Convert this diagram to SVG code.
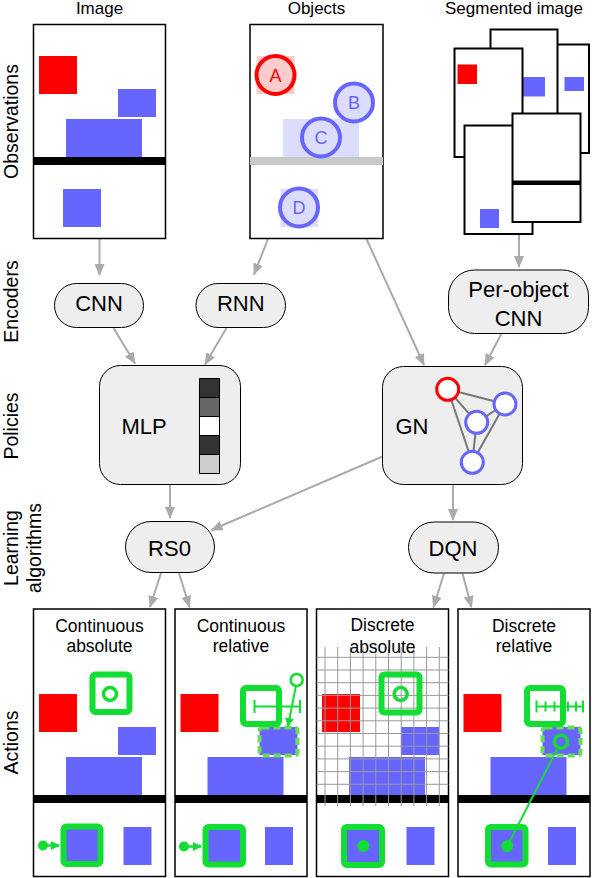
<svg xmlns="http://www.w3.org/2000/svg" xmlns:xlink="http://www.w3.org/1999/xlink" width="592" height="878" viewBox="0 0 592 878">
<style>
text{font-family:"Liberation Sans",Arial,Helvetica,sans-serif;fill:#000}
.ax{font-size:19.5px;text-anchor:middle}
.tl{font-size:17px;text-anchor:middle}
.nl{font-size:22px;text-anchor:middle}
.al{font-size:17.5px;text-anchor:middle}
.panel{fill:#fff;stroke:#000;stroke-width:1.5}
.frame{fill:#fff;stroke:#000;stroke-width:2}
.node{fill:#eeeeee;stroke:#000;stroke-width:1}
.red{fill:#ff0000}
.blue{fill:#6666ff}
.conn{stroke:#aaaaaa;stroke-width:2;fill:none;marker-end:url(#ah)}
.g{stroke:#11dd33;fill:none}
.gf{fill:#11dd33}
.dash{fill:none;stroke:#66dd55;stroke-width:4;stroke-dasharray:7 4}
.grid{stroke:#999;stroke-width:1}
.gne{stroke:#777;stroke-width:2}
.obj{font-size:18px;text-anchor:middle}
</style>
<defs>
<marker id="ah" markerUnits="userSpaceOnUse" markerWidth="12" markerHeight="10" refX="11" refY="5" orient="auto">
<path d="M0,0 L12,5 L0,10 z" fill="#aaaaaa"/>
</marker>
<marker id="gh" markerUnits="userSpaceOnUse" markerWidth="9" markerHeight="9" refX="8" refY="4.5" orient="auto">
<path d="M0,0 L9,4.5 L0,9 z" fill="#11dd33"/>
</marker>
<g id="sceneTop">
<rect class="red" x="5.5" y="-101" width="38" height="38"/>
<rect class="blue" x="84.5" y="-68" width="38" height="28"/>
<rect class="blue" x="32.5" y="-38" width="76" height="38"/>
<rect x="0" y="0" width="132" height="8" fill="#000"/>
<rect class="blue" x="29.5" y="32" width="38" height="38"/>
</g>
<g id="sceneAct">
<use xlink:href="#sceneTop"/>
<rect class="blue" x="90" y="32" width="28" height="38"/>
</g>
</defs>
<rect width="592" height="878" fill="#fff"/>

<g id="axis-labels">
<text class="ax" transform="translate(17.5,121.5) rotate(-90)">Observations</text>
<text class="ax" transform="translate(17.5,301.5) rotate(-90)">Encoders</text>
<text class="ax" transform="translate(17.5,426) rotate(-90)">Policies</text>
<text class="ax" transform="translate(17.5,548) rotate(-90)">Learning</text>
<text class="ax" transform="translate(41,548) rotate(-90)">algorithms</text>
<text class="ax" transform="translate(17.5,742.5) rotate(-90)">Actions</text>
</g>

<g id="connectors">
<line class="conn" x1="99.5" y1="239" x2="99.5" y2="275"/>
<line class="conn" x1="268" y1="239" x2="254" y2="274.5"/>
<line class="conn" x1="366.5" y1="239" x2="424" y2="365"/>
<line class="conn" x1="519" y1="234" x2="519" y2="267"/>
<line class="conn" x1="113.5" y1="328" x2="135" y2="363.5"/>
<line class="conn" x1="226.5" y1="328" x2="205" y2="364.5"/>
<line class="conn" x1="501.5" y1="333.5" x2="485" y2="365"/>
<line class="conn" x1="170" y1="484.5" x2="170" y2="518"/>
<line class="conn" x1="382.5" y1="456.5" x2="211.5" y2="530"/>
<line class="conn" x1="453" y1="484.5" x2="453" y2="520"/>
<line class="conn" x1="161" y1="573" x2="150" y2="607"/>
<line class="conn" x1="179" y1="573" x2="189.5" y2="607"/>
<line class="conn" x1="444" y1="573.5" x2="433.5" y2="607"/>
<line class="conn" x1="462.5" y1="573.5" x2="471.5" y2="607"/>
</g>

<g id="obs-image">
<text class="tl" x="99.5" y="14">Image</text>
<rect class="panel" x="33.5" y="24.5" width="132" height="214"/>
<use xlink:href="#sceneTop" transform="translate(33.5,157)"/>
</g>

<g id="obs-objects">
<text class="tl" x="316.5" y="14">Objects</text>
<rect class="panel" x="250" y="24.5" width="133" height="214"/>
<rect x="250" y="157" width="133" height="8" fill="#c8c8c8"/>
<rect x="256.5" y="56" width="38" height="38" fill="#ffcccc"/>
<rect x="283" y="119" width="76" height="38" fill="#dcdcff"/>
<rect x="280.5" y="189" width="37.5" height="38" fill="#dcdcff"/>
<circle cx="275.5" cy="75" r="19" fill="#ffcccc" stroke="#ff0000" stroke-width="4"/>
<circle cx="354" cy="102.5" r="19" fill="#dcdcff" stroke="#6666ff" stroke-width="4"/>
<circle cx="321" cy="137.5" r="19" fill="#dcdcff" stroke="#6666ff" stroke-width="4"/>
<circle cx="299" cy="207.5" r="19" fill="#dcdcff" stroke="#6666ff" stroke-width="4"/>
<text class="obj" x="275.5" y="81.5" style="fill:#ff0000">A</text>
<text class="obj" x="354" y="109" style="fill:#6666ff">B</text>
<text class="obj" x="321" y="144" style="fill:#6666ff">C</text>
<text class="obj" x="299" y="214" style="fill:#6666ff">D</text>
</g>

<g id="obs-segmented">
<text class="tl" x="514" y="14">Segmented image</text>
<rect class="frame" x="521" y="44.5" width="68" height="108.5"/>
<rect class="blue" x="564.5" y="77" width="19.5" height="14"/>
<rect class="frame" x="490.5" y="29.5" width="67" height="108.5"/>
<rect class="blue" x="507" y="77" width="38" height="19.5"/>
<rect class="frame" x="454.5" y="48.5" width="68" height="108.5"/>
<rect class="red" x="457.5" y="64.5" width="19.5" height="19.5"/>
<rect class="frame" x="464.5" y="125.5" width="68" height="108.5"/>
<rect class="blue" x="480" y="209" width="19" height="19"/>
<rect class="frame" x="512.5" y="113.5" width="68" height="108.5"/>
<rect x="512.5" y="180.5" width="68" height="4.5" fill="#000"/>
</g>

<g id="enc-cnn">
<rect class="node" x="54.5" y="283.5" width="89" height="44" rx="22"/>
<text class="nl" x="99" y="311">CNN</text>
</g>
<g id="enc-rnn">
<rect class="node" x="196" y="283.5" width="89.5" height="44" rx="22"/>
<text class="nl" x="240.8" y="311">RNN</text>
</g>
<g id="enc-perobject">
<rect class="node" x="448.5" y="270" width="140" height="63.5" rx="26"/>
<text class="nl" x="518.5" y="297">Per-object</text>
<text class="nl" x="518.5" y="326">CNN</text>
</g>

<g id="pol-mlp">
<rect class="node" x="99.5" y="365.5" width="141" height="119" rx="21"/>
<text class="nl" x="144" y="434">MLP</text>
<rect x="199.5" y="378.5" width="20" height="19" fill="#333" stroke="#000"/>
<rect x="199.5" y="397.5" width="20" height="19" fill="#666" stroke="#000"/>
<rect x="199.5" y="416.5" width="20" height="19" fill="#fff" stroke="#000"/>
<rect x="199.5" y="435.5" width="20" height="19" fill="#333" stroke="#000"/>
<rect x="199.5" y="454.5" width="20" height="19" fill="#ccc" stroke="#000"/>
</g>

<g id="pol-gn">
<rect class="node" x="382.5" y="366.5" width="140" height="118" rx="21"/>
<text class="nl" x="412" y="433.5">GN</text>
<line class="gne" x1="447.7" y1="389.3" x2="505" y2="404"/>
<line class="gne" x1="447.7" y1="389.3" x2="476.7" y2="422.3"/>
<line class="gne" x1="447.7" y1="389.3" x2="472.3" y2="462.3"/>
<line class="gne" x1="505" y1="404" x2="476.7" y2="422.3"/>
<line class="gne" x1="505" y1="404" x2="472.3" y2="462.3"/>
<line class="gne" x1="476.7" y1="422.3" x2="472.3" y2="462.3"/>
<circle cx="447.7" cy="389.3" r="11" fill="#fff" stroke="#ff0000" stroke-width="3"/>
<circle cx="505" cy="404" r="11" fill="#fff" stroke="#6666ff" stroke-width="3"/>
<circle cx="476.7" cy="422.3" r="11" fill="#fff" stroke="#6666ff" stroke-width="3"/>
<circle cx="472.3" cy="462.3" r="11" fill="#fff" stroke="#6666ff" stroke-width="3"/>
</g>

<g id="alg-rs0">
<rect class="node" x="125.5" y="521.5" width="89" height="51" rx="25.5"/>
<text class="nl" x="169.5" y="556">RS0</text>
</g>
<g id="alg-dqn">
<rect class="node" x="408.5" y="522" width="90" height="51" rx="25.5"/>
<text class="nl" x="453" y="556">DQN</text>
</g>

<g id="act-cont-abs">
<rect class="panel" x="33.5" y="609" width="132" height="267.5"/>
<text class="al" x="99.5" y="631.5">Continuous</text>
<text class="al" x="99.5" y="652">absolute</text>
<use xlink:href="#sceneAct" transform="translate(33.5,795)"/>
<rect class="g" x="92.5" y="674.5" width="37" height="37.5" rx="3" stroke-width="6"/>
<circle class="g" cx="110" cy="694" r="6.5" stroke-width="3.5"/>
<rect class="g" x="63.5" y="826.5" width="37" height="37.5" rx="3" stroke-width="6"/>
<line class="g" x1="43" y1="845.5" x2="59" y2="845.5" stroke-width="2.5" marker-end="url(#gh)"/>
<circle class="gf" cx="43" cy="845.5" r="5"/>
</g>

<g id="act-cont-rel">
<rect class="panel" x="175" y="609" width="132" height="267.5"/>
<text class="al" x="241" y="631.5">Continuous</text>
<text class="al" x="241" y="652">relative</text>
<use xlink:href="#sceneAct" transform="translate(175,795)"/>
<rect class="dash" x="259.5" y="727.5" width="38" height="28" rx="3"/>
<rect class="g" x="243" y="688" width="36" height="36" rx="3" stroke-width="6"/>
<g class="g" stroke-width="2">
<line x1="254.5" y1="706.5" x2="300" y2="706.5"/>
<line x1="254.5" y1="700" x2="254.5" y2="713"/>
<line x1="300" y1="700" x2="300" y2="713"/>
</g>
<line class="g" x1="295.8" y1="686.5" x2="288" y2="726" stroke-width="2" marker-end="url(#gh)"/>
<circle cx="296.7" cy="680" r="6" fill="#fff" stroke="#11dd33" stroke-width="2.5"/>
<rect class="g" x="205.5" y="827" width="37.5" height="37.5" rx="3" stroke-width="6"/>
<line class="g" x1="184" y1="846.5" x2="201" y2="846.5" stroke-width="2.5" marker-end="url(#gh)"/>
<circle class="gf" cx="184" cy="846.5" r="5"/>
</g>

<g id="act-disc-abs">
<rect class="panel" x="316.5" y="609" width="132" height="267.5"/>
<use xlink:href="#sceneAct" transform="translate(316.5,795)"/>
<g class="grid">
<line x1="316.5" y1="657.3" x2="448.5" y2="657.3"/>
<line x1="316.5" y1="670" x2="448.5" y2="670"/>
<line x1="316.5" y1="682.7" x2="448.5" y2="682.7"/>
<line x1="316.5" y1="695.4" x2="448.5" y2="695.4"/>
<line x1="316.5" y1="708.1" x2="448.5" y2="708.1"/>
<line x1="316.5" y1="720.8" x2="448.5" y2="720.8"/>
<line x1="316.5" y1="733.5" x2="448.5" y2="733.5"/>
<line x1="316.5" y1="746.2" x2="448.5" y2="746.2"/>
<line x1="316.5" y1="758.9" x2="448.5" y2="758.9"/>
<line x1="316.5" y1="771.6" x2="448.5" y2="771.6"/>
<line x1="316.5" y1="784.3" x2="448.5" y2="784.3"/>
<line x1="325" y1="647" x2="325" y2="806"/>
<line x1="337.7" y1="647" x2="337.7" y2="806"/>
<line x1="350.4" y1="647" x2="350.4" y2="806"/>
<line x1="363.1" y1="647" x2="363.1" y2="806"/>
<line x1="375.8" y1="647" x2="375.8" y2="806"/>
<line x1="388.5" y1="647" x2="388.5" y2="806"/>
<line x1="401.2" y1="647" x2="401.2" y2="806"/>
<line x1="413.9" y1="647" x2="413.9" y2="806"/>
<line x1="426.6" y1="647" x2="426.6" y2="806"/>
<line x1="439.3" y1="647" x2="439.3" y2="806"/>
</g>
<text class="al" x="382.5" y="630.5">Discrete</text>
<text class="al" x="382.5" y="652.5">absolute</text>
<rect class="g" x="381.5" y="674.5" width="38" height="38" rx="3" stroke-width="6"/>
<circle class="g" cx="400.7" cy="694" r="6.5" stroke-width="3.5"/>
<rect class="g" x="344" y="827" width="38" height="38" rx="3" stroke-width="6"/>
<circle class="gf" cx="363.3" cy="846" r="6"/>
</g>

<g id="act-disc-rel">
<rect class="panel" x="458" y="609" width="132" height="267.5"/>
<text class="al" x="524" y="631.5">Discrete</text>
<text class="al" x="524" y="652">relative</text>
<use xlink:href="#sceneAct" transform="translate(458,795)"/>
<line class="g" x1="557.3" y1="748.8" x2="507.3" y2="846" stroke-width="2"/>
<rect class="dash" x="542.5" y="727.5" width="38" height="28" rx="3"/>
<circle class="g" cx="561" cy="741.7" r="6.5" stroke-width="3.5"/>
<rect class="g" x="527" y="688" width="36" height="36" rx="3" stroke-width="6"/>
<g class="g" stroke-width="2">
<line x1="536" y1="706.5" x2="583.5" y2="706.5"/>
<line x1="536.5" y1="700.5" x2="536.5" y2="712.5"/>
<line x1="545.5" y1="701.5" x2="545.5" y2="711.5"/>
<line x1="554.5" y1="701.5" x2="554.5" y2="711.5"/>
<line x1="568" y1="701.5" x2="568" y2="711.5"/>
<line x1="576" y1="701.5" x2="576" y2="711.5"/>
<line x1="583" y1="700.5" x2="583" y2="712.5"/>
</g>
<rect class="g" x="488" y="827" width="37.5" height="37.5" rx="3" stroke-width="6"/>
<circle class="gf" cx="507.3" cy="846" r="6"/>
</g>
</svg>
